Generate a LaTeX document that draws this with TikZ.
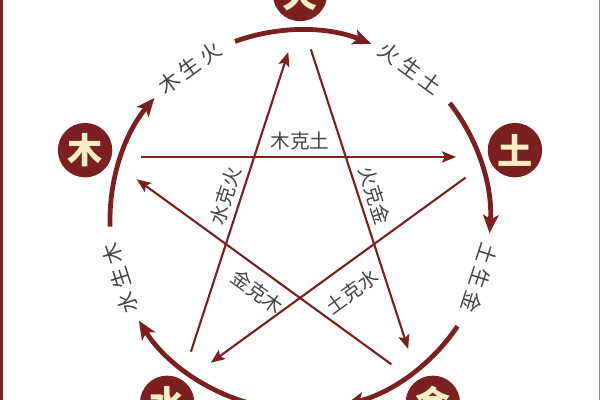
\documentclass[tikz,border=0pt]{standalone}
\usepackage{fontspec}
\usepackage{tikz}
\usetikzlibrary{arrows.meta,calc}
\newfontfamily\cjk{Noto Sans CJK SC}
\definecolor{wxred}{HTML}{7A2020}
\definecolor{wxcream}{HTML}{F7EDC2}
\definecolor{wxgray}{HTML}{454545}
\tikzstyle{element} = [circle, fill=wxred, text=wxcream, minimum size=1.36cm, inner sep=0pt, font=\cjk\bfseries\fontsize{25}{25}\selectfont]
\tikzstyle{generate} = [line width=3.4pt, color=wxred, -{Stealth[length=13pt,width=11pt,inset=3pt]}]
\tikzstyle{control} = [line width=1.5pt, color=wxred, -{Stealth[length=10pt,width=8pt,inset=2pt]}, shorten <=25pt, shorten >=27pt]
\tikzstyle{sheng-label} = [text=wxgray, font=\cjk\fontsize{15}{15}\selectfont]
\tikzstyle{ke-label} = [text=wxgray, font=\cjk\fontsize{14}{14}\selectfont, sloped, inner sep=4pt]

\begin{document}
\begin{tikzpicture}[x=0.025cm, y=0.025cm]
    \useasboundingbox (0,0) rectangle (600,400);
    \clip (0,0) rectangle (600,400);
    \fill[white] (0,0) rectangle (600,400);
    \fill[wxred] (0,0) rectangle (3,400);
    \fill[black!45] (598.5,0) rectangle (600,400);
    \coordinate (centre) at (300,180);
    \coordinate (tip-fire) at ($(centre)+(90:204)$);
    \coordinate (tip-earth) at ($(centre)+(18:204)$);
    \coordinate (tip-metal) at ($(centre)+(-54:204)$);
    \coordinate (tip-water) at ($(centre)+(234:204)$);
    \coordinate (tip-wood) at ($(centre)+(162:204)$);
    \draw[generate] ($(centre)+(110:190)$) arc[start angle=110, end angle=68, radius=190];
    \draw[generate] ($(centre)+(38:190)$) arc[start angle=38, end angle=-4, radius=190];
    \draw[generate] ($(centre)+(-34:190)$) arc[start angle=-34, end angle=-76, radius=190];
    \draw[generate] ($(centre)+(254:190)$) arc[start angle=254, end angle=212, radius=190];
    \draw[generate] ($(centre)+(182:190)$) arc[start angle=182, end angle=140, radius=190];
    \node (label-wood-fire) [sheng-label, rotate=36] at ($(centre)+(126:188)$) {木\hspace{3pt}生\hspace{3pt}火};
    \node (label-fire-earth) [sheng-label, rotate=-36] at ($(centre)+(54:188)$) {火\hspace{3pt}生\hspace{3pt}土};
    \node (label-earth-metal) [sheng-label, rotate=-108] at ($(centre)+(-18:189)$) {土\hspace{3pt}生\hspace{3pt}金};
    \node (label-water-wood) [sheng-label, rotate=108] at ($(centre)+(198:189)$) {水\hspace{3pt}生\hspace{3pt}木};
    \draw[control] (tip-wood) -- node[ke-label, above] {木克土} (tip-earth);
    \draw[control] (tip-earth) -- node[ke-label, below=7pt, pos=0.5] {土克水} (tip-water);
    \draw[control] (tip-water) -- node[ke-label, above] {水克火} (tip-fire);
    \draw[control] (tip-fire) -- node[ke-label, above] {火克金} (tip-metal);
    \draw[control] (tip-metal) -- node[ke-label, below=3pt, pos=0.48] {金克木} (tip-wood);
    \node (fire) [element] at ($(centre)+(90:226)$) {火};
    \node (earth) [element] at ($(centre)+(18:226)$) {土};
    \node (metal) [element] at ($(centre)+(-54:226)$) {金};
    \node (water) [element] at ($(centre)+(234:226)$) {水};
    \node (wood) [element] at ($(centre)+(162:226)$) {木};
\end{tikzpicture}
\end{document}
